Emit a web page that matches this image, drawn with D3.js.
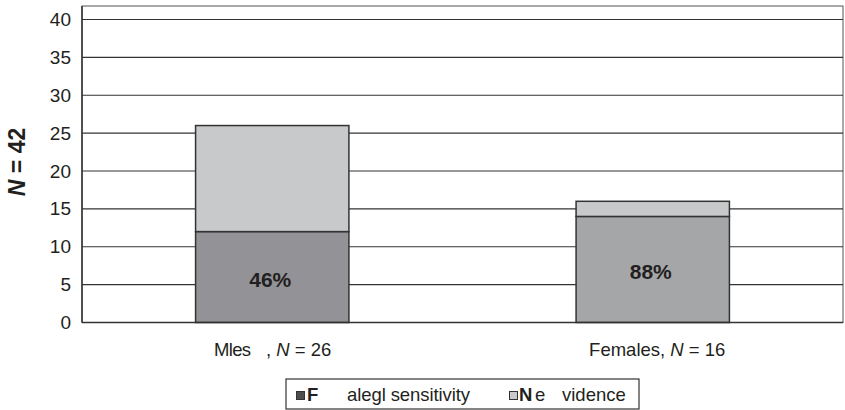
<!DOCTYPE html>
<html>
<head>
<meta charset="utf-8">
<script src="https://cdn.jsdelivr.net/npm/d3@7"></script>
<style>
  html, body { margin: 0; padding: 0; background: #fff; }
  svg { display: block; font-family: "Liberation Sans", Arial, sans-serif; }
</style>
</head>
<body>
<svg id="chart" width="845" height="410"></svg>
<script>
// Stacked counts per group
const categories = ["Males", "Females"];
const groupN = [26, 16];
const sensitivity = [12, 14];
const noEvidence = [14, 2];
const percentLabels = ["46%", "88%"];
const yTicks = [0, 5, 10, 15, 20, 25, 30, 35, 40];

const ink = "#231f20";
const svg = d3.select("#chart");

const plot = { left: 82, right: 843, top: 6, zero: 322.5, max: 19.5 };

const x = d3.scaleBand().domain(categories).range([plot.left, plot.right]).paddingInner(0).paddingOuter(0);
const y = d3.scaleLinear().domain([0, 40]).range([plot.zero, plot.max]);
const barW = x.bandwidth() * 0.403;

// plot frame
svg.append("rect")
  .attr("x", plot.left).attr("y", plot.top)
  .attr("width", plot.right - plot.left).attr("height", plot.zero - plot.top)
  .attr("fill", "none").attr("stroke", "#555").attr("stroke-width", 1);

// gridlines
svg.append("g").selectAll("line").data(yTicks.filter(d => d > 0)).join("line")
  .attr("x1", plot.left).attr("x2", plot.right)
  .attr("y1", d => y(d)).attr("y2", d => y(d))
  .attr("stroke", "#333").attr("stroke-width", 1.2);

// y axis
const yAxis = svg.append("g").attr("transform", `translate(${plot.left},0)`)
  .call(d3.axisLeft(y).tickValues(yTicks).tickSize(0).tickPadding(11));
yAxis.select(".domain").remove();
yAxis.selectAll("text").attr("font-size", 19).attr("fill", ink)
  .attr("font-family", "Liberation Sans, Arial, sans-serif");
svg.append("line").attr("x1", plot.left).attr("x2", plot.left)
  .attr("y1", plot.top).attr("y2", plot.zero).attr("stroke", "#333").attr("stroke-width", 1.5);

// stacked bars
const bottomFill = { Males: "#939397", Females: "#a5a6a8" };
const topFill = "#c8c9cb";
const barsG = svg.append("g");
categories.forEach((c, i) => {
  const bx = x(c) + (x.bandwidth() - barW) / 2;
  barsG.append("rect")
    .attr("x", bx).attr("y", y(sensitivity[i]))
    .attr("width", barW).attr("height", y(0) - y(sensitivity[i]))
    .attr("fill", bottomFill[c]).attr("stroke", "#333").attr("stroke-width", 1.5);
  barsG.append("rect")
    .attr("x", bx).attr("y", y(sensitivity[i] + noEvidence[i]))
    .attr("width", barW).attr("height", y(sensitivity[i]) - y(sensitivity[i] + noEvidence[i]))
    .attr("fill", topFill).attr("stroke", "#333").attr("stroke-width", 1.5);
  barsG.append("text")
    .attr("x", x(c) + x.bandwidth() / 2 - 2)
    .attr("y", (y(0) + y(sensitivity[i])) / 2 + 10)
    .attr("text-anchor", "middle").attr("font-size", 21).attr("font-weight", "bold")
    .attr("fill", ink).text(percentLabels[i]);
});

// baseline
svg.append("line").attr("x1", plot.left).attr("x2", plot.right)
  .attr("y1", plot.zero).attr("y2", plot.zero).attr("stroke", "#333").attr("stroke-width", 1.5);

// category labels
const labY = 355.5;
const mal = svg.append("text").attr("y", labY).attr("font-size", 18.5).attr("fill", ink);
mal.append("tspan").attr("x", 214).attr("textLength", 37).text("Mles");
mal.append("tspan").attr("x", 266).text(", ");
mal.append("tspan").attr("font-style", "italic").text("N");
mal.append("tspan").text(" = " + groupN[0]);

const fem = svg.append("text").attr("x", x("Females") + x.bandwidth() / 2 + 4.5).attr("y", labY)
  .attr("text-anchor", "middle").attr("font-size", 18.5).attr("fill", ink);
fem.append("tspan").text(categories[1] + ", ");
fem.append("tspan").attr("font-style", "italic").text("N");
fem.append("tspan").text(" = " + groupN[1]);

// y title
const yt = svg.append("text")
  .attr("transform", "translate(25,162) rotate(-90)")
  .attr("text-anchor", "middle").attr("font-size", 23).attr("font-weight", "bold").attr("fill", ink);
yt.append("tspan").attr("font-style", "italic").text("N");
yt.append("tspan").text(" = 42");

// legend
const lg = svg.append("g");
lg.append("rect").attr("x", 286).attr("y", 379).attr("width", 353).attr("height", 30)
  .attr("fill", "#fff").attr("stroke", "#333").attr("stroke-width", 1.2);
lg.append("rect").attr("x", 296.5).attr("y", 391.5).attr("width", 8).attr("height", 8)
  .attr("fill", "#4d4d4f").attr("stroke", "#333").attr("stroke-width", 1);
lg.append("rect").attr("x", 509.5).attr("y", 391.5).attr("width", 8).attr("height", 8)
  .attr("fill", topFill).attr("stroke", "#333").attr("stroke-width", 1);
const l1 = lg.append("text").attr("y", 401).attr("font-size", 18.5).attr("fill", ink);
l1.append("tspan").attr("x", 307).attr("font-weight", "bold").text("F");
l1.append("tspan").attr("x", 347).attr("textLength", 123).text("alegl sensitivity");
const l2 = lg.append("text").attr("y", 401).attr("font-size", 18.5).attr("fill", ink);
l2.append("tspan").attr("x", 519).attr("font-weight", "bold").text("N");
l2.append("tspan").attr("x", 535).text("e");
l2.append("tspan").attr("x", 562).text("vidence");
</script>
</body>
</html>
